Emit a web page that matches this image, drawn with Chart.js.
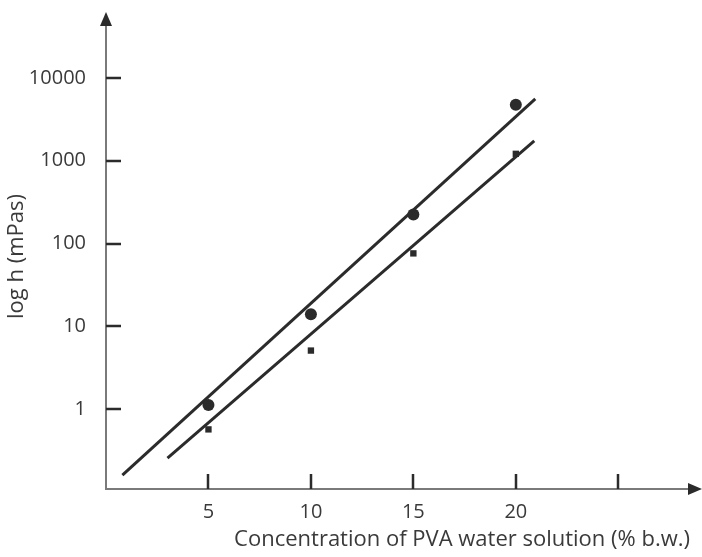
<!DOCTYPE html>
<html>
<head>
<meta charset="utf-8">
<script src="https://cdn.jsdelivr.net/npm/chart.js@4.4.1/dist/chart.umd.min.js"></script>
<style>
  html, body { margin: 0; padding: 0; background: #fff; }
  #wrap { width: 702px; height: 557px; }
</style>
</head>
<body>
<div id="wrap"><canvas id="pva" width="702" height="557"></canvas></div>
<script>
// tick values / labels
var xTicks = [5, 10, 15, 20, 25];
var xTickLabels = ["5", "10", "15", "20", ""];
var yTicks = [1, 10, 100, 1000, 10000];

// measured points (circles / squares)
var circleX = [5, 10, 15, 20];
var circleY = [1.12, 14, 224, 4730];
var squareX = [5, 10, 15, 20];
var squareY = [0.57, 5.1, 76, 1210];

// fitted lines, end points
var upperLineX = [0.8, 20.95];
var upperLineY = [0.16, 5590];
var lowerLineX = [3.0, 20.9];
var lowerLineY = [0.257, 1740];

function pairs(xs, ys) {
  return xs.map(function (v, i) {
    return { x: v, y: ys[i] };
  });
}

var ink = "#2b2b2b";
var textColor = "#3a3a3a";

// inward tick marks + arrow heads
var axisDecor = {
  id: "axisDecor",
  afterDraw: function (chart) {
    var ctx = chart.ctx;
    var xs = chart.scales.x;
    var ys = chart.scales.y;
    var a = chart.chartArea;
    ctx.save();
    ctx.strokeStyle = ink;
    ctx.lineWidth = 2.5;
    ctx.beginPath();
    yTicks.forEach(function (v) {
      var py = Math.round(ys.getPixelForValue(v));
      ctx.moveTo(a.left, py);
      ctx.lineTo(a.left + 15, py);
    });
    xTicks.forEach(function (v) {
      var px = Math.round(xs.getPixelForValue(v));
      ctx.moveTo(px, a.bottom);
      ctx.lineTo(px, a.bottom - 15);
    });
    ctx.stroke();

    ctx.fillStyle = ink;
    // y arrow
    ctx.beginPath();
    ctx.moveTo(a.left, a.top - 12);
    ctx.lineTo(a.left - 6, a.top + 2);
    ctx.lineTo(a.left + 6, a.top + 2);
    ctx.closePath();
    ctx.fill();
    // x arrow
    ctx.beginPath();
    ctx.moveTo(a.right + 12, a.bottom);
    ctx.lineTo(a.right - 2, a.bottom - 6);
    ctx.lineTo(a.right - 2, a.bottom + 6);
    ctx.closePath();
    ctx.fill();
    ctx.restore();
  },
};

var ctx = document.getElementById("pva").getContext("2d");

var pvaChart = new Chart(ctx, {
  type: "scatter",
  data: {
    datasets: [
      {
        data: pairs(circleX, circleY),
        pointStyle: "circle",
        pointRadius: 6,
        backgroundColor: ink,
        borderColor: ink,
        borderWidth: 0,
      },
      {
        data: pairs(squareX, squareY),
        pointStyle: "rect",
        pointRadius: 4.5,
        backgroundColor: ink,
        borderColor: ink,
        borderWidth: 0,
      },
      {
        data: pairs(upperLineX, upperLineY),
        showLine: true,
        pointRadius: 0,
        borderColor: ink,
        borderWidth: 3,
      },
      {
        data: pairs(lowerLineX, lowerLineY),
        showLine: true,
        pointRadius: 0,
        borderColor: ink,
        borderWidth: 3,
      },
    ],
  },
  options: {
    responsive: false,
    animation: false,
    layout: {
      padding: { top: 22, right: 12, left: 0, bottom: 0 },
    },
    plugins: {
      legend: { display: false },
      tooltip: { enabled: false },
    },
    scales: {
      x: {
        type: "linear",
        position: "bottom",
        min: 0,
        max: 28.5,
        grid: { display: false },
        border: { display: true, color: "#7a7a7a", width: 2 },
        afterBuildTicks: function (scale) {
          scale.ticks = xTicks.map(function (v) {
            return { value: v };
          });
        },
        afterFit: function (scale) {
          scale.height = 68;
        },
        ticks: {
          autoSkip: false,
          maxRotation: 0,
          padding: 3,
          color: textColor,
          font: { family: "Open Sans", size: 20 },
          callback: function (v) {
            return xTickLabels[xTicks.indexOf(v)];
          },
        },
        title: {
          display: true,
          align: "end",
          text: "Concentration of PVA water solution (% b.w.)",
          color: textColor,
          font: { family: "Open Sans", size: 22 },
          padding: { top: 0, bottom: 4 },
        },
      },
      y: {
        type: "logarithmic",
        position: "left",
        min: 0.1087,
        max: 44700,
        grid: { display: false },
        border: { display: true, color: "#7a7a7a", width: 2 },
        afterBuildTicks: function (scale) {
          scale.ticks = yTicks.map(function (v) {
            return { value: v };
          });
        },
        afterFit: function (scale) {
          scale.width = 106;
        },
        ticks: {
          autoSkip: false,
          padding: 12,
          color: textColor,
          font: { family: "Open Sans", size: 20 },
          callback: function (v) {
            return String(v);
          },
        },
        title: {
          display: true,
          text: "log h (mPas)",
          color: textColor,
          font: { family: "Open Sans", size: 22 },
          padding: { top: 4, bottom: 0 },
        },
      },
    },
  },
  plugins: [axisDecor],
});
</script>
</body>
</html>
